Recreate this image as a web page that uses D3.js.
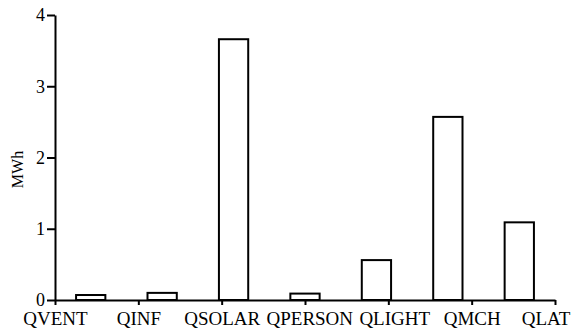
<!DOCTYPE html>
<html>
<head>
<meta charset="utf-8">
<script src="https://cdn.jsdelivr.net/npm/d3@7"></script>
<style>
  body { margin: 0; background: #fff; }
  text { font-family: "Liberation Serif", "Times New Roman", serif; fill: #000; }
</style>
</head>
<body>
<div id="chart"></div>
<script>
var categories = ["QVENT", "QINF", "QSOLAR", "QPERSON", "QLIGHT", "QMCH", "QLAT"];
var values = [0.07, 0.1, 3.66, 0.09, 0.56, 2.57, 1.09];
var yTicks = [0, 1, 2, 3, 4];

var svgWidth = 571;
var svgHeight = 334;

var svg = d3.select("#chart")
    .append("svg")
    .attr("width", svgWidth)
    .attr("height", svgHeight);

// axis extents
var x0 = 55, x1 = 555;
var yScale = d3.scaleLinear()
    .domain([0, 4])
    .range([300, 15]);

// bars sit in bands over the axis, labels sit on evenly spaced ticks
var barScale = d3.scaleBand()
    .domain(categories)
    .range([x0, x1])
    .paddingInner(0.59)
    .paddingOuter(0.295);

var labelScale = d3.scalePoint()
    .domain(categories)
    .range([x0, x1]);

// bars
svg.selectAll("rect.bar")
    .data(values)
    .enter()
    .append("rect")
    .attr("class", "bar")
    .attr("x", (d, i) => barScale(categories[i]))
    .attr("y", d => yScale(d))
    .attr("width", barScale.bandwidth())
    .attr("height", d => yScale(0) - yScale(d))
    .attr("fill", "#fff")
    .attr("stroke", "#000")
    .attr("stroke-width", 2);

// y axis
var leftAxis = d3.axisLeft(yScale)
    .tickValues(yTicks)
    .tickFormat(d3.format("d"))
    .tickSize(8)
    .tickSizeOuter(0)
    .tickPadding(2);

var yG = svg.append("g")
    .attr("transform", `translate(${x0},0)`)
    .call(leftAxis);
yG.select(".domain").attr("stroke-width", 2);
yG.selectAll(".tick line").attr("stroke-width", 2);
yG.selectAll(".tick text")
    .attr("font-family", "Liberation Serif")
    .attr("font-size", 18);

// x axis
var bottomAxis = d3.axisBottom(labelScale)
    .tickSize(5)
    .tickSizeOuter(0)
    .tickPadding(7);

var xG = svg.append("g")
    .attr("transform", `translate(0,${yScale(0)})`)
    .call(bottomAxis);
xG.select(".domain").attr("stroke-width", 2);
xG.selectAll(".tick line").attr("stroke-width", 2);
xG.selectAll(".tick text")
    .attr("font-family", "Liberation Serif")
    .attr("font-size", 19);

// spread the labels so they don't collide, and keep them inside the picture
var boxes = [];
xG.selectAll(".tick text").each(function (d) {
    var b = this.getBBox();
    boxes.push({ node: this, c: labelScale(d), w: b.width, x: labelScale(d) - b.width / 2 });
});
var gap = 6;
for (var i = 1; i < boxes.length; i++) {
    var prevRight = boxes[i - 1].x + boxes[i - 1].w;
    if (boxes[i].x < prevRight + gap) boxes[i].x = prevRight + gap;
}
var last = boxes[boxes.length - 1];
if (last.x + last.w > svgWidth - 1) {
    last.x = svgWidth - 1 - last.w;
    for (var j = boxes.length - 2; j >= 0; j--) {
        var nextLeft = boxes[j + 1].x;
        if (boxes[j].x + boxes[j].w > nextLeft - gap) boxes[j].x = nextLeft - gap - boxes[j].w;
    }
}
boxes.forEach(function (b) {
    d3.select(b.node).attr("x", b.x + b.w / 2 - b.c);
});

// y label
svg.append("text")
    .attr("transform", `translate(23,${(yScale(0) + yScale(4)) / 2 + 12}) rotate(-90)`)
    .attr("text-anchor", "middle")
    .attr("font-size", 16)
    .text("MWh");
</script>
</body>
</html>
